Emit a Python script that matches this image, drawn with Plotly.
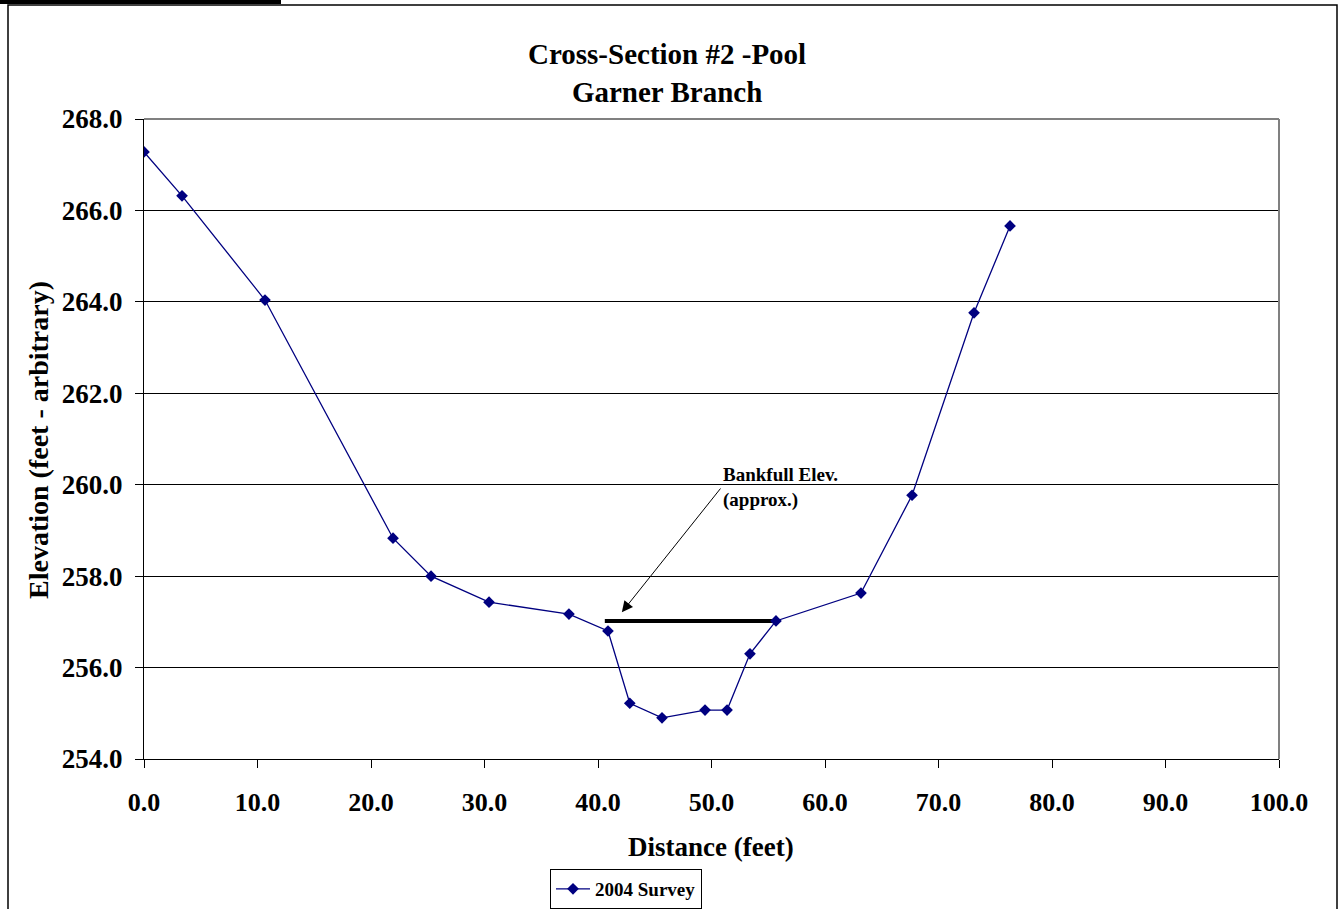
import plotly.graph_objects as go

# ---- data ----
distance_ft = [0.0, 3.35, 10.66, 21.94, 25.29, 30.40, 37.44, 40.88, 42.80, 45.64,
               49.43, 51.37, 53.39, 55.68, 63.17, 67.67, 73.13, 76.30]
elevation_ft = [267.28, 266.32, 264.04, 258.83, 258.00, 257.43, 257.17, 256.80, 255.22, 254.90,
                255.07, 255.07, 256.30, 257.02, 257.63, 259.77, 263.76, 265.66]
series_name = "2004 Survey"

bankfull_x = [40.6, 55.68]
bankfull_y = [257.02, 257.02]

arrow_tail = (50.9, 259.95)
arrow_head = (42.1, 257.21)
bankfull_label = "Bankfull Elev.<br>(approx.)"

x_ticks = [0, 10, 20, 30, 40, 50, 60, 70, 80, 90, 100]
y_ticks = [254, 256, 258, 260, 262, 264, 266, 268]

title_lines = ["Cross-Section #2 -Pool", "Garner Branch"]
x_title = "Distance (feet)"
y_title = "Elevation (feet - arbitrary)"

FONT = "Liberation Serif, Times New Roman, serif"
W, H = 1339, 909
L, R, T, B = 144, 60, 119, 150
pw, ph = W - L - R, H - T - B


def px_x(p):
    return (p - L) / pw


def px_y(p):
    return (H - B - p) / ph


fig = go.Figure()

fig.add_trace(go.Scatter(
    x=bankfull_x, y=bankfull_y, mode="lines",
    line=dict(color="black", width=4), showlegend=False, hoverinfo="skip"))

fig.add_trace(go.Scatter(
    x=distance_ft, y=elevation_ft, mode="lines+markers", name="<b>" + series_name + "</b>",
    line=dict(color="#000080", width=1.3),
    marker=dict(symbol="diamond", size=9, color="#000080")))

fig.update_layout(
    width=W, height=H,
    margin=dict(l=L, r=R, t=T, b=B, autoexpand=False),
    paper_bgcolor="white", plot_bgcolor="white",
    font=dict(family=FONT, color="black"),
    showlegend=True,
    legend=dict(x=px_x(550), y=px_y(869), xanchor="left", yanchor="top",
                bordercolor="black", borderwidth=1, bgcolor="white",
                font=dict(family=FONT, size=19, color="black"),
                itemwidth=34, tracegroupgap=0),
)

fig.update_xaxes(
    range=[0, 100], tickvals=x_ticks, ticktext=[f"{v:.1f}" for v in x_ticks],
    showgrid=False, zeroline=False, automargin=False,
    showline=True, linecolor="black", linewidth=1,
    ticks="outside", ticklen=8, tickcolor="black", tickwidth=1,
    tickfont=dict(family=FONT, size=26, color="black", weight="bold"),
    ticklabelstandoff=12,
)
fig.update_yaxes(
    range=[254, 268], tickvals=y_ticks, ticktext=[f"{v:.1f}" for v in y_ticks],
    showgrid=True, gridcolor="black", gridwidth=1, zeroline=False, automargin=False,
    showline=True, linecolor="black", linewidth=1,
    ticks="outside", ticklen=8, tickcolor="black", tickwidth=1,
    tickfont=dict(family=FONT, size=27, color="black", weight="bold"),
    ticklabelstandoff=7,
)

shapes = [
    dict(type="line", xref="paper", yref="paper", x0=0, x1=1, y0=1, y1=1,
         line=dict(color="#808080", width=2)),
    dict(type="line", xref="paper", yref="paper", x0=1, x1=1, y0=0, y1=1,
         line=dict(color="#808080", width=2)),
    dict(type="rect", xref="paper", yref="paper",
         x0=px_x(8), x1=px_x(1337), y0=px_y(912), y1=px_y(5),
         line=dict(color="black", width=1.5), fillcolor="rgba(0,0,0,0)", layer="below"),
    dict(type="rect", xref="paper", yref="paper",
         x0=px_x(0), x1=px_x(281), y0=px_y(4), y1=px_y(0),
         line=dict(width=0), fillcolor="black"),
]
fig.update_layout(shapes=shapes)

annotations = [
    dict(text="<b>" + "<br>".join(title_lines) + "</b>", xref="paper", yref="paper",
         x=px_x(667), y=px_y(73), xanchor="center", yanchor="middle", showarrow=False,
         font=dict(family=FONT, size=29, color="black")),
    dict(text="<b>" + x_title + "</b>", xref="paper", yref="paper",
         x=px_x(711), y=px_y(847), xanchor="center", yanchor="middle", showarrow=False,
         font=dict(family=FONT, size=27, color="black")),
    dict(text="<b>" + y_title + "</b>", xref="paper", yref="paper",
         x=px_x(38), y=px_y(440), xanchor="center", yanchor="middle", showarrow=False,
         textangle=-90, font=dict(family=FONT, size=28, color="black")),
    dict(text="<b>" + bankfull_label + "</b>", xref="paper", yref="paper",
         x=px_x(721), y=px_y(462), xanchor="left", yanchor="top", showarrow=False,
         align="left", font=dict(family=FONT, size=19, color="black")),
    dict(text="", xref="x", yref="y", x=arrow_head[0], y=arrow_head[1],
         axref="x", ayref="y", ax=arrow_tail[0], ay=arrow_tail[1],
         showarrow=True, arrowhead=2, arrowsize=2.2, arrowwidth=1, arrowcolor="black",
         standoff=0),
]
fig.update_layout(annotations=annotations)

fig.write_html("out.html", config={"displayModeBar": False},
               post_script="document.body.style.margin='0';")
